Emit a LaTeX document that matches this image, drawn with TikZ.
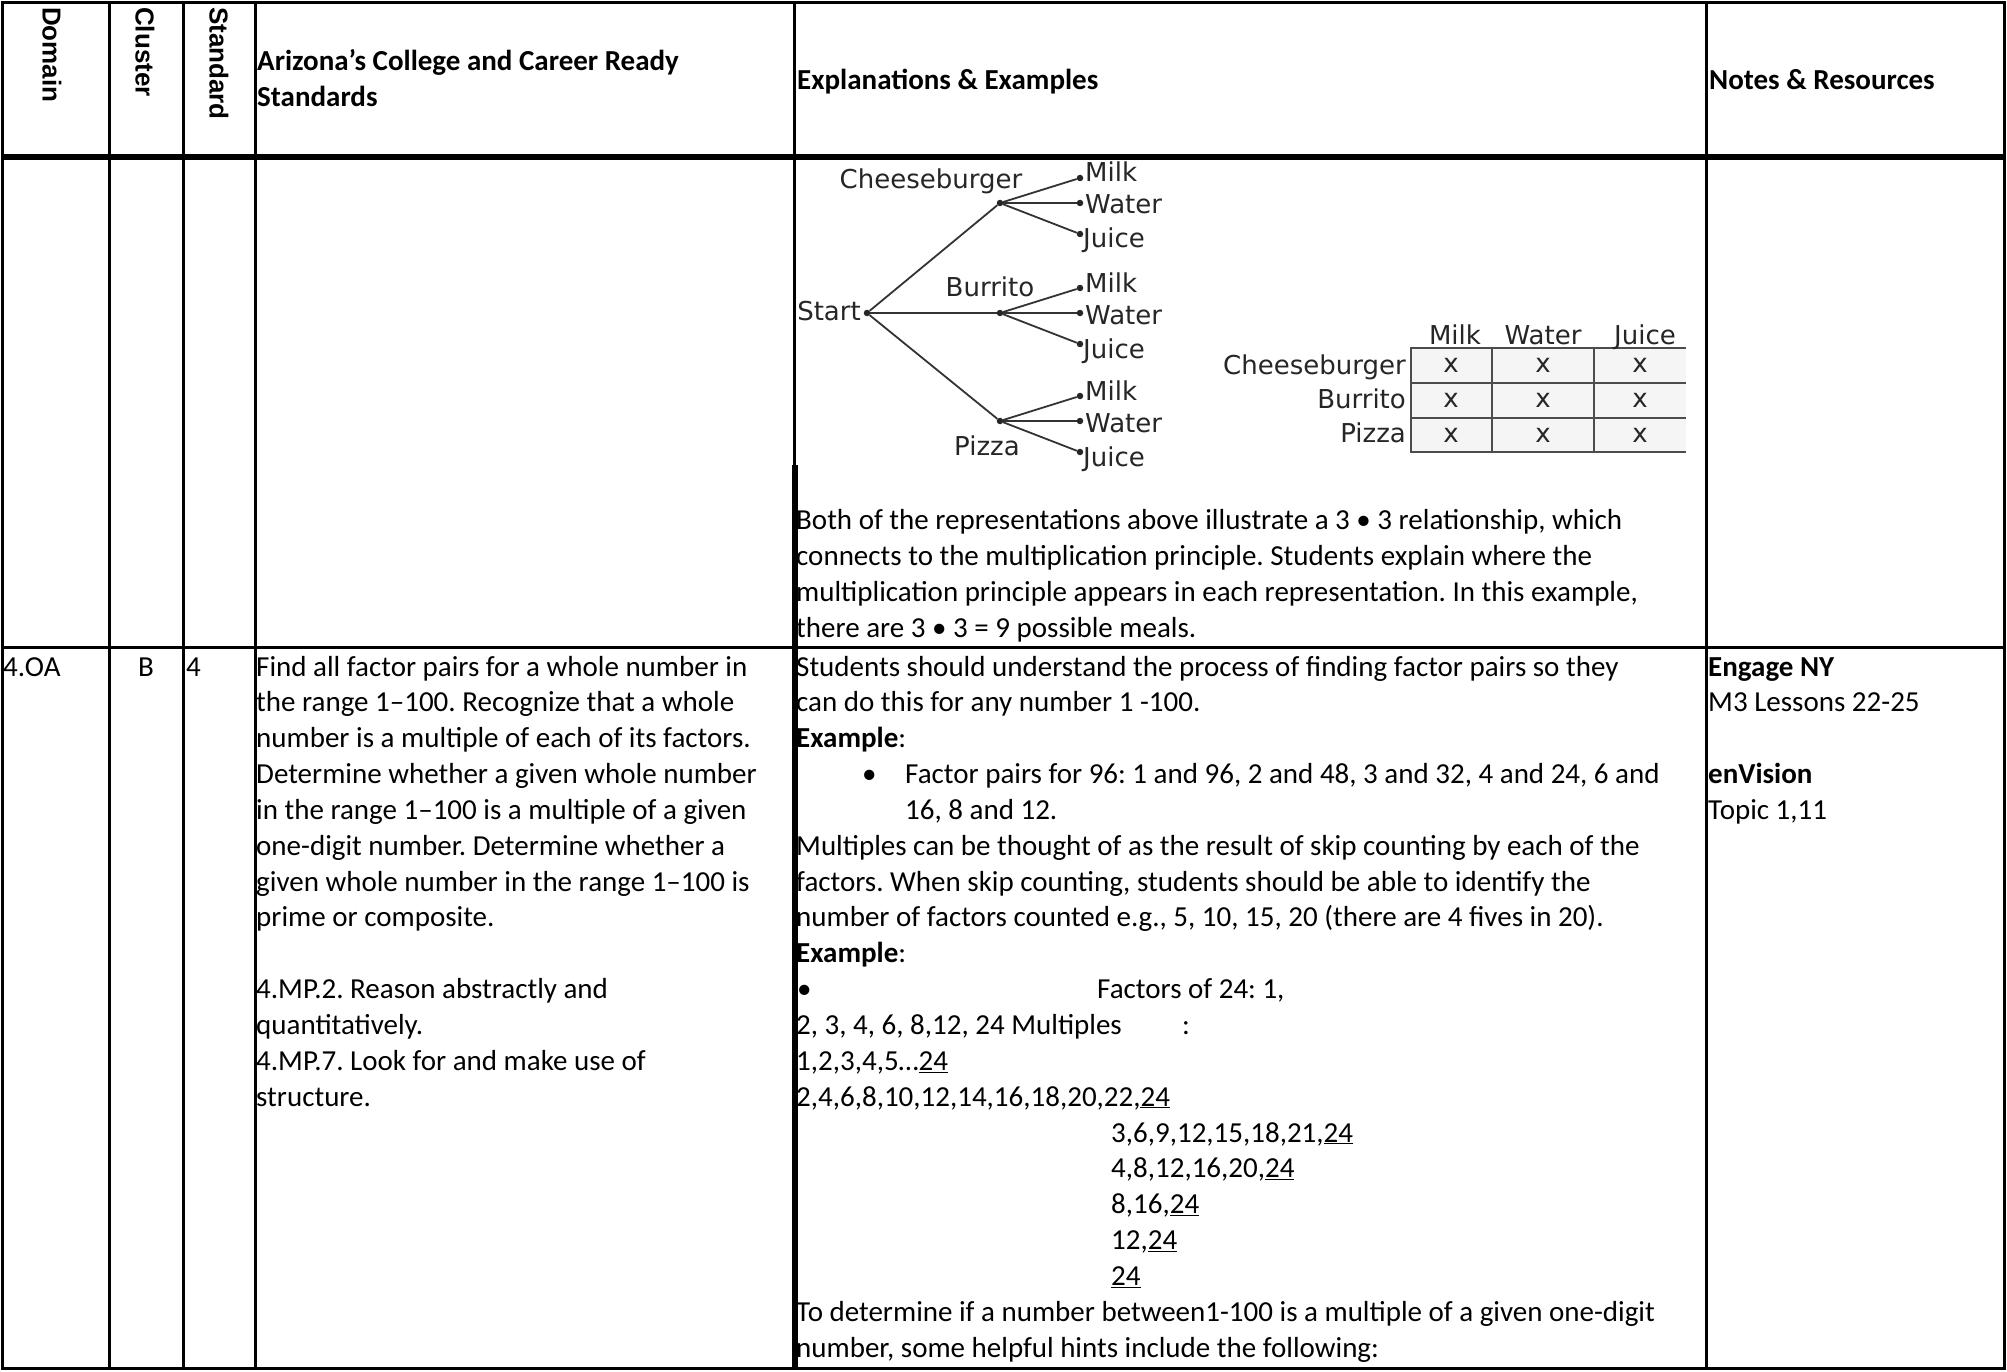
\documentclass[tikz,border=0pt]{standalone}
\usepackage{fontspec}
\setmainfont{Carlito}
\newfontfamily\treefont{DejaVu Sans}
\newfontfamily\hdfont{Liberation Sans}
\frenchspacing
\newcommand\TLine[4]{\node[txt] (#1) at (#2,{676+35.85*(#3)}) {#4};}
\newcommand\TLineB[4]{\node[txtb] (#1) at (#2,{676+35.85*(#3)}) {#4};}
\begin{document}
\begin{tikzpicture}[x=1pt,y=-1pt,
  txt/.style={anchor=base west, inner sep=0pt, font=\fontsize{29}{35}\selectfont},
  txtb/.style={txt, font=\fontsize{29}{35}\selectfont\bfseries},
  vhd/.style={anchor=west, rotate=-90, inner sep=0pt, font=\hdfont\fontsize{26}{30}\selectfont\bfseries},
  tr/.style={inner sep=0pt, font=\treefont\fontsize{26}{30}\selectfont, text=black!85},
  dot/.style={circle, fill=black!85, draw=none, inner sep=0pt, minimum size=6.5pt},
  br/.style={draw=black!80, line width=1.8pt},
  rl/.style={line width=3pt},
  thk/.style={line width=5.5pt},
  grd/.style={draw=black!70, line width=1.8pt}
]
\useasboundingbox (0,0) rectangle (2007,1372);
\fill[white] (0,0) rectangle (2007,1372);

% ---------- table rules ----------
\draw[rl] (2.5,3) rectangle (2004.5,1368);
\foreach \xx in {109,183,255,794,1706} \draw[rl] (\xx,3) -- (\xx,1368);
\draw[thk] (2.5,157) -- (2004.5,157);
\draw[rl] (2.5,647) -- (2004.5,647);
\draw[thk] (795,465) -- (795,1368);

% ---------- header ----------
\node[vhd] (hdom) at (52,7) {Domain};
\node[vhd] (hclu) at (145,7) {Cluster};
\node[vhd] (hsta) at (219,7) {Standard};
\node[txtb] (haz1) at (257,71) {Arizona’s College and Career Ready};
\node[txtb] (haz2) at (257,107) {Standards};
\node[txtb] (hexp) at (797,90) {Explanations \& Examples};
\node[txtb] (hnot) at (1709,90) {Notes \& Resources};

% ---------- tree diagram ----------
\node[dot] (st) at (867,313) {};
\node[tr, anchor=base east] (lst) at (861,320) {Start};
\foreach \g/\yy in {cb/203, bu/313, pz/421} {
  \node[dot] (\g) at (1000,\yy) {};
  \draw[br] (st) -- (\g);
  \node[dot] (\g-m) at (1080,{\yy-25}) {};
  \node[dot] (\g-w) at (1080,\yy) {};
  \node[dot] (\g-j) at (1080,{\yy+31}) {};
  \draw[br] (\g) -- (\g-m);
  \draw[br] (\g) -- (\g-w);
  \draw[br] (\g) -- (\g-j);
  \node[tr, anchor=base west] (\g-mt) at (1085,{\yy-25+4}) {Milk};
  \node[tr, anchor=base west] (\g-wt) at (1085,{\yy+11}) {Water};
  \node[tr, anchor=base west] (\g-jt) at (1083,{\yy+31+14}) {Juice};
}
\node[tr, anchor=base] (lcb) at (931,189) {Cheeseburger};
\node[tr, anchor=base] (lbu) at (990,297) {Burrito};
\node[tr, anchor=base] (lpz) at (987,455) {Pizza};

% ---------- small table ----------
\fill[black!4] (1411,348) rectangle (1686,452);
\draw[grd] (1686,348) -- (1411,348) -- (1411,452) -- (1686,452);
\draw[grd] (1411,383) -- (1686,383);
\draw[grd] (1411,418) -- (1686,418);
\draw[grd] (1492,348) -- (1492,452);
\draw[grd] (1594,348) -- (1594,452);
\node[tr, anchor=base] (tmilk) at (1455,344) {Milk};
\node[tr, anchor=base] (twater) at (1543,344) {Water};
\node[tr, anchor=base] (tjuice) at (1645,344) {Juice};
\node[tr, anchor=base east] (tcb) at (1406,374) {Cheeseburger};
\node[tr, anchor=base east] (tbu) at (1406,408) {Burrito};
\node[tr, anchor=base east] (tpz) at (1406,442) {Pizza};
\foreach \r/\yy in {1/372, 2/407, 3/442} {
  \node[tr, anchor=base] (x\r a) at (1451,\yy) {x};
  \node[tr, anchor=base] (x\r b) at (1543,\yy) {x};
  \node[tr, anchor=base] (x\r c) at (1640,\yy) {x};
}

% ---------- row 1 paragraph ----------
\node[txt] (p1) at (796,529.5) {Both of the representations above illustrate a 3 • 3 relationship, which};
\node[txt] (p2) at (796,565.4) {connects to the multiplication principle. Students explain where the};
\node[txt] (p3) at (796,601.2) {multiplication principle appears in each representation. In this example,};
\node[txt] (p4) at (796,637) {there are 3 • 3 = 9 possible meals.};

% ---------- row 2 ----------
\node[txt] (dom) at (3,676) {4.OA};
\node[txt, anchor=base] (clu) at (146,676) {B};
\node[txt] (sta) at (186,676) {4};

\TLine{a0}{256}{0}{Find all factor pairs for a whole number in}
\TLine{a1}{256}{1}{the range 1–100. Recognize that a whole}
\TLine{a2}{256}{2}{number is a multiple of each of its factors.}
\TLine{a3}{256}{3}{Determine whether a given whole number}
\TLine{a4}{256}{4}{in the range 1–100 is a multiple of a given}
\TLine{a5}{256}{5}{one-digit number. Determine whether a}
\TLine{a6}{256}{6}{given whole number in the range 1–100 is}
\TLine{a7}{256}{7}{prime or composite.}
\TLine{a9}{256}{9}{4.MP.2. Reason abstractly and}
\TLine{a10}{256}{10}{quantitatively.}
\TLine{a11}{256}{11}{4.MP.7. Look for and make use of}
\TLine{a12}{256}{12}{structure.}

\TLine{e0}{796}{0}{Students should understand the process of finding factor pairs so they}
\TLine{e1}{796}{1}{can do this for any number 1 -100.}
\TLine{e2}{796}{2}{\textbf{Example}:}
\TLine{e3b}{862}{3}{•}
\TLine{e3}{905}{3}{Factor pairs for 96: 1 and 96, 2 and 48, 3 and 32, 4 and 24, 6 and}
\TLine{e4}{905}{4}{16, 8 and 12.}
\TLine{e5}{796}{5}{Multiples can be thought of as the result of skip counting by each of the}
\TLine{e6}{796}{6}{factors. When skip counting, students should be able to identify the}
\TLine{e7}{796}{7}{number of factors counted e.g., 5, 10, 15, 20 (there are 4 fives in 20).}
\TLine{e8}{796}{8}{\textbf{Example}:}
\TLine{e9b}{797}{9}{•}
\TLine{e9}{1097}{9}{Factors of 24: 1,}
\TLine{e10}{796}{10}{2, 3, 4, 6, 8,12, 24 Multiples}
\TLine{e10c}{1182}{10}{:}
\TLine{e11}{796}{11}{1,2,3,4,5…\underline{24}}
\TLine{e12}{796}{12}{2,4,6,8,10,12,14,16,18,20,22,\underline{24}}
\TLine{e13}{1111}{13}{3,6,9,12,15,18,21,\underline{24}}
\TLine{e14}{1111}{14}{4,8,12,16,20,\underline{24}}
\TLine{e15}{1111}{15}{8,16,\underline{24}}
\TLine{e16}{1111}{16}{12,\underline{24}}
\TLine{e17}{1111}{17}{\underline{24}}
\TLine{e18}{796}{18}{To determine if a number between1-100 is a multiple of a given one-digit}
\TLine{e19}{796}{19}{number, some helpful hints include the following:}

\TLineB{n0}{1708}{0}{Engage NY}
\TLine{n1}{1708}{1}{M3 Lessons 22-25}
\TLineB{n3}{1708}{3}{enVision}
\TLine{n4}{1708}{4}{Topic 1,11}
\end{tikzpicture}
\end{document}
